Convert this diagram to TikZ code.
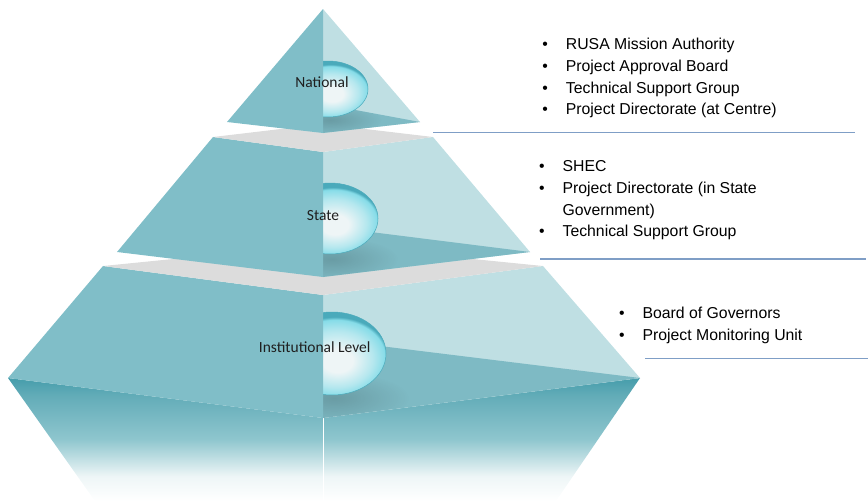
\documentclass[tikz,border=0pt]{standalone}
\usepackage{fontspec}
\setmainfont{Liberation Sans}
\newfontfamily\lblfont{Carlito}
\usetikzlibrary{fadings}

\definecolor{leftface}{HTML}{80BEC8}
\definecolor{rightface}{HTML}{BFDFE3}
\definecolor{darkface}{HTML}{7EBAC4}
\definecolor{platecol}{HTML}{DCDCDC}
\definecolor{sepline}{HTML}{7F9EC6}
\definecolor{ballhi}{HTML}{EEF5F6}
\definecolor{ballcyan}{HTML}{86DCE8}
\definecolor{ballrim}{HTML}{4AAABB}
\definecolor{skirttop}{HTML}{469DAB}
\definecolor{skirtmid}{HTML}{8FC6CE}
\definecolor{skirtlow}{HTML}{EEF6F7}

\pgfdeclareradialshading{ballshade}{\pgfpoint{3bp}{-5bp}}{color(0bp)=(ballhi); color(7bp)=(ballhi); color(17bp)=(ballcyan!55!ballhi); color(23bp)=(ballcyan); color(24.6bp)=(ballrim); color(25bp)=(ballrim); color(50bp)=(ballrim)}
\pgfdeclareverticalshading{skirtshade}{100bp}{color(0bp)=(white); color(25bp)=(white); color(35bp)=(skirtlow); color(50bp)=(skirtmid); color(68bp)=(skirttop!85!white); color(75bp)=(skirttop); color(100bp)=(skirttop)}
\tikzfading[name=softshadow, inner color=transparent!0, outer color=transparent!100]

\tikzset{
  lface/.style={fill=leftface},
  rface/.style={fill=rightface},
  dface/.style={fill=darkface},
  platefill/.style={fill=platecol},
  ballst/.style={shading=ballshade, draw=ballrim, line width=0.5pt},
  shadowst/.style={fill=black, fill opacity=0.16, path fading=softshadow},
  lbl/.style={font=\lblfont\fontsize{15.5}{18}\selectfont, inner sep=0pt, anchor=base, text=black!88},
  blist/.style={font=\fontsize{15.8}{21.8}\selectfont, inner sep=0pt, anchor=base west, text=black},
  sepst/.style={draw=sepline, line width=1.2pt},
}
\newcommand{\bul}{\makebox[23.5pt][l]{\textbullet}}
\newcommand{\nobul}{\makebox[23.5pt][l]{}}

\begin{document}
\begin{tikzpicture}[x=1pt, y=-1pt]
\useasboundingbox (0,0) rectangle (868,501);

% ---------- bottom skirt ----------
\path[shading=skirtshade] (8,378) -- (323,418) -- (640,378) -- (556,501) -- (95,501) -- cycle;
\draw[white, line width=0.8pt] (323,418) -- (323,501);

% ---------- institutional tier ----------
\path[rface] (323,295) -- (543,266) -- (640,378) -- (323,418) -- cycle;
\path[dface] (323,339) -- (640,378) -- (323,418) -- cycle;
\begin{scope}
  \clip (323,339) -- (640,378) -- (323,418) -- cycle;
  \path[shadowst] (334,398) ellipse (75 and 26);
\end{scope}
\path[ballst] (332,353.5) ellipse (54 and 41.5);
\path[lface] (103,266) -- (323,295) -- (323,418) -- (8,378) -- cycle;
\path[platefill] (103,266) -- (323,244) -- (543,266) -- (323,295) -- cycle;

% ---------- state tier ----------
\path[rface] (323,152) -- (433,137) -- (530,252) -- (323,277) -- cycle;
\path[dface] (323,226) -- (530,252) -- (323,277) -- cycle;
\begin{scope}
  \clip (323,226) -- (530,252) -- (323,277) -- cycle;
  \path[shadowst] (332,259) ellipse (66 and 22);
\end{scope}
\path[ballst] (330,218.5) ellipse (48 and 35.5);
\path[lface] (213,137) -- (323,152) -- (323,277) -- (117,252) -- cycle;
\path[platefill] (213,137) -- (323,124) -- (433,137) -- (323,152) -- cycle;

% ---------- national tier ----------
\path[rface] (323,9) -- (420,122) -- (323,133) -- cycle;
\path[dface] (323,104) -- (420,122) -- (323,133) -- cycle;
\begin{scope}
  \clip (323,104) -- (420,122) -- (323,133) -- cycle;
  \path[shadowst] (330,120) ellipse (52 and 15);
\end{scope}
\path[ballst] (328,89) ellipse (40 and 28);
\path[lface] (323,9) -- (323,133) -- (227,122) -- cycle;

% ---------- tier labels ----------
\node[lbl] (national) at (322,87.5) {National};
\node[lbl] (state) at (323,220.5) {State};
\node[lbl] (inst) at (314.7,352) {Institutional Level};

% ---------- separator lines ----------
\coordinate (s1a) at (433,132.5); \coordinate (s1b) at (855,132.5);
\coordinate (s2a) at (540,259);   \coordinate (s2b) at (866,259);
\coordinate (s3a) at (645,358.5); \coordinate (s3b) at (868,358.5);
\draw[sepst] (s1a) -- (s1b);
\draw[sepst] (s2a) -- (s2b);
\draw[sepst] (s3a) -- (s3b);

% ---------- bullet lists ----------
\node[blist] (list1) at (542.2,49.5) {\begin{tabular}[t]{@{}l@{}l@{}}
\bul & RUSA Mission Authority\\
\bul & Project Approval Board\\
\bul & Technical Support Group\\
\bul & Project Directorate (at Centre)
\end{tabular}};
\node[blist] (list2) at (538.9,171.5) {\begin{tabular}[t]{@{}l@{}l@{}}
\bul & SHEC\\
\bul & Project Directorate (in State\\
\nobul & Government)\\
\bul & Technical Support Group
\end{tabular}};
\node[blist] (list3) at (618.9,318.5) {\begin{tabular}[t]{@{}l@{}l@{}}
\bul & Board of Governors\\
\bul & Project Monitoring Unit
\end{tabular}};
\end{tikzpicture}
\end{document}
